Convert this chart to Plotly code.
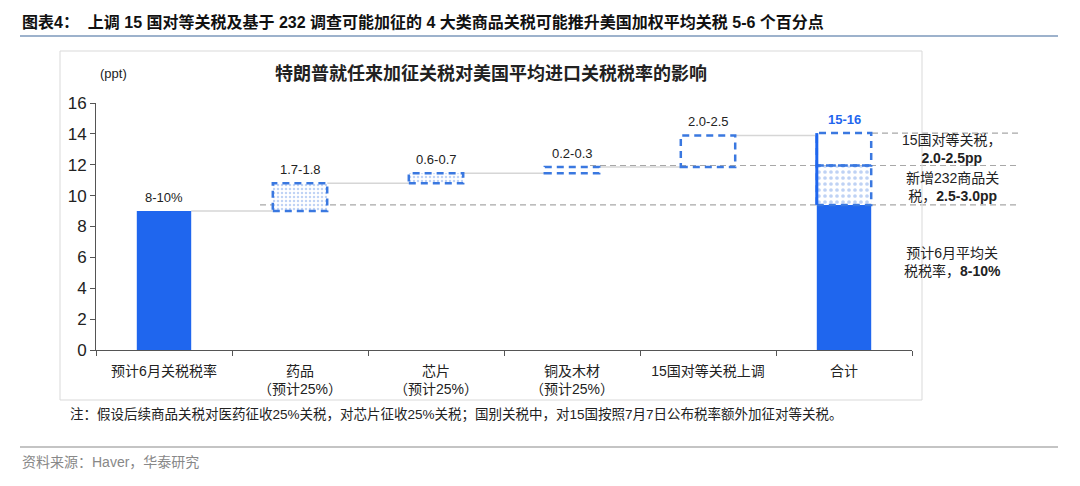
import plotly.graph_objects as go

# categories on the x axis
categories = ["预计6月关税税率", "药品<br>（预计25%）", "芯片<br>（预计25%）",
              "铜及木材<br>（预计25%）", "15国对等关税上调", "合计"]

# starting average tariff rate (ppt) and the step-ups
start_rate = 9.0
start_label = "8-10%"
increments = [1.8, 0.65, 0.4, 2.05]
inc_labels = ["1.7-1.8", "0.6-0.7", "0.2-0.3", "2.0-2.5"]
inc_dotted = [True, True, False, False]

# total bar split: base rate, added 232 goods, 15-country reciprocal
total_parts = [9.4, 2.55, 2.1]
total_label = "15-16"
side_notes = ["预计6月平均关<br>税税率，<b>8-10%</b>",
              "新增232商品关<br>税，<b>2.5-3.0pp</b>",
              "15国对等关税，<br><b>2.0-2.5pp</b>"]

BLUE = "#1F66EE"
DASH_BLUE = "#3A78E0"
FONT = "Liberation Sans, Noto Sans CJK SC"

W, H = 1080, 486
L, R, T, B = 96, 912, 103, 350   # plot area in pixels


def px(x):
    return (x - L) / (R - L)


def py(y):
    return (B - y) / (B - T)


bw = 0.4
# running levels of the waterfall
bases = []
level = start_rate
for inc in increments:
    bases.append(level)
    level += inc
tops = [b + i for b, i in zip(bases, increments)]

fig = go.Figure()

# solid blue parts
fig.add_trace(go.Bar(x=[categories[0], categories[5]], y=[start_rate, total_parts[0]],
                     width=bw, marker=dict(color=BLUE, line=dict(width=0)),
                     showlegend=False, hoverinfo="skip"))

# dotted boxes
dot_x = [categories[i + 1] for i in range(4) if inc_dotted[i]] + [categories[5]]
dot_base = [bases[i] for i in range(4) if inc_dotted[i]] + [total_parts[0]]
dot_y = [increments[i] for i in range(4) if inc_dotted[i]] + [total_parts[1]]
fig.add_trace(go.Bar(x=dot_x, y=dot_y, base=dot_base, width=bw,
                     marker=dict(color="white", line=dict(width=0),
                                 pattern=dict(shape=".", fgcolor="#7FA6EA", bgcolor="white",
                                              size=[4, 4, 6], solidity=0.3)),
                     showlegend=False, hoverinfo="skip"))

shapes = []

# dashed outlines of the step boxes
box_list = [(i + 1, bases[i], tops[i]) for i in range(4)]
box_list.append((5, total_parts[0], total_parts[0] + total_parts[1]))
box_list.append((5, total_parts[0] + total_parts[1], sum(total_parts)))
for xi, y0, y1 in box_list:
    shapes.append(dict(type="rect", xref="x", yref="y", x0=xi - bw / 2, x1=xi + bw / 2,
                       y0=y0, y1=y1, line=dict(color=DASH_BLUE, width=2.5, dash="7px,5px"),
                       layer="above"))
# solid left edge on the total
shapes.append(dict(type="line", xref="x", yref="y", x0=5 - bw / 2, x1=5 - bw / 2,
                   y0=total_parts[0], y1=sum(total_parts),
                   line=dict(color=BLUE, width=3)))

# grey connectors between steps
levels = [start_rate] + tops
for i, lv in enumerate(levels):
    shapes.append(dict(type="line", xref="x", yref="y", x0=i + bw / 2, x1=i + 1 - bw / 2,
                       y0=lv, y1=lv, line=dict(color="#D6D6D6", width=1.5), layer="below"))

# grey dashed reference lines toward the side notes
ref_levels = [total_parts[0], total_parts[0] + total_parts[1], sum(total_parts)]
ref_starts = [px(260), px(590), px(872)]
for lv, xs in zip(ref_levels, ref_starts):
    shapes.append(dict(type="line", xref="paper", yref="y", x0=xs, x1=px(1018),
                       y0=lv, y1=lv, line=dict(color="#A8A8A8", width=1.2, dash="6px,4px"),
                       layer="below"))

# chart frame, header rule, footer rule
shapes.append(dict(type="rect", xref="paper", yref="paper", x0=px(60), x1=px(922),
                   y0=py(400), y1=py(51), line=dict(color="#D9D9D9", width=1)))
shapes.append(dict(type="line", xref="paper", yref="paper", x0=px(20), x1=px(1058),
                   y0=py(36), y1=py(36), line=dict(color="#9DB2CC", width=2)))
shapes.append(dict(type="line", xref="paper", yref="paper", x0=px(20), x1=px(1058),
                   y0=py(447), y1=py(447), line=dict(color="#B0B0B0", width=1.5)))

annotations = []
# value labels above bars
annotations.append(dict(x=0, y=start_rate, xref="x", yref="y", text=start_label,
                        showarrow=False, yanchor="bottom", yshift=4,
                        font=dict(size=13, color="#222")))
for i in range(4):
    annotations.append(dict(x=i + 1, y=tops[i], xref="x", yref="y", text=inc_labels[i],
                            showarrow=False, yanchor="bottom", yshift=4,
                            font=dict(size=13, color="#222")))
annotations.append(dict(x=5, y=sum(total_parts), xref="x", yref="y",
                        text="<b>" + total_label + "</b>", showarrow=False,
                        yanchor="bottom", yshift=4, font=dict(size=13, color=BLUE)))

# side notes
note_y = [total_parts[0] / 2 + 1.0,
          total_parts[0] + total_parts[1] / 2 - 0.1,
          total_parts[0] + total_parts[1] + total_parts[2] / 2]
for txt, yv in zip(side_notes, note_y):
    annotations.append(dict(x=px(952), y=yv, xref="paper", yref="y", text=txt,
                            showarrow=False, align="center", xanchor="center",
                            yanchor="middle", font=dict(size=14, color="#222")))

# titles and notes
annotations += [
    dict(x=px(20), y=py(22), xref="paper", yref="paper", xanchor="left", yanchor="middle",
         text="<b>图表4：  上调 15 国对等关税及基于 232 调查可能加征的 4 大类商品关税可能推升美国加权平均关税 5-6 个百分点</b>",
         showarrow=False, font=dict(size=16, color="#111")),
    dict(x=px(491), y=py(73), xref="paper", yref="paper", xanchor="center", yanchor="middle",
         text="<b>特朗普就任来加征关税对美国平均进口关税税率的影响</b>",
         showarrow=False, font=dict(size=18, color="#222")),
    dict(x=px(113), y=py(74), xref="paper", yref="paper", xanchor="center", yanchor="middle",
         text="(ppt)", showarrow=False, font=dict(size=13, color="#222")),
    dict(x=px(68), y=py(414), xref="paper", yref="paper", xanchor="left", yanchor="middle",
         text="注：假设后续商品关税对医药征收25%关税，对芯片征收25%关税；国别关税中，对15国按照7月7日公布税率额外加征对等关税。",
         showarrow=False, font=dict(size=13.5, color="#222")),
    dict(x=px(20), y=py(462), xref="paper", yref="paper", xanchor="left", yanchor="middle",
         text="资料来源：Haver，华泰研究", showarrow=False,
         font=dict(size=14, color="#888")),
]

fig.update_layout(
    width=W, height=H,
    margin=dict(l=L, r=W - R, t=T, b=H - B),
    paper_bgcolor="white", plot_bgcolor="white",
    font=dict(family=FONT, color="#222"),
    barmode="overlay",
    shapes=shapes, annotations=annotations,
    xaxis=dict(type="category", categoryorder="array", categoryarray=categories,
               range=[-0.5, 5.5], tickson="boundaries", ticks="outside", ticklen=5,
               tickcolor="#555", showline=True, linecolor="#555", linewidth=1,
               showgrid=False, tickfont=dict(size=14, color="#222"),
               ticklabelstandoff=8, fixedrange=True),
    yaxis=dict(range=[0, 16], dtick=2, ticks="outside", ticklen=5, tickcolor="#555",
               showline=True, linecolor="#555", linewidth=1, showgrid=False,
               zeroline=False, tickfont=dict(size=17, color="#222"), fixedrange=True),
)

fig.write_html("out.html", config={"displayModeBar": False},
               post_script="document.body.style.margin='0px';")
